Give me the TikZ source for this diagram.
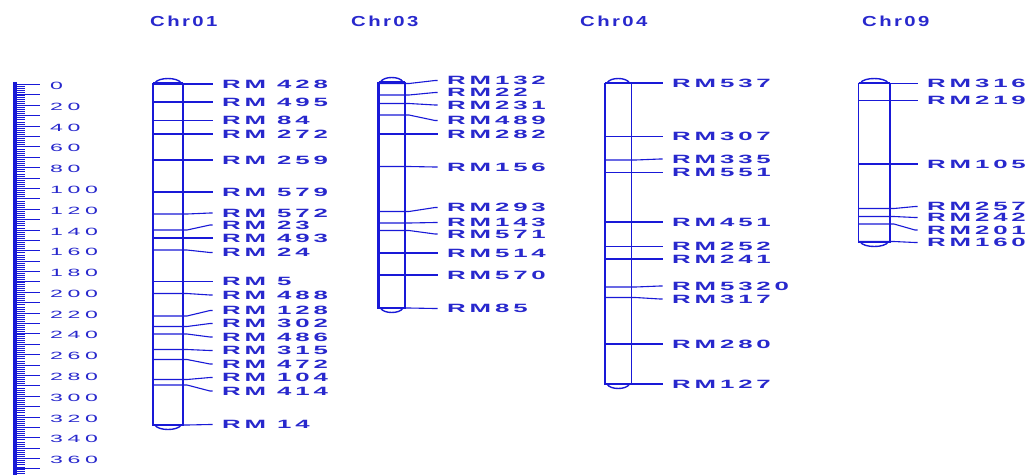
\documentclass[tikz,border=0pt]{standalone}
\usepackage{graphicx}
\usepackage{fontspec}
\setmainfont{Liberation Sans}
\newfontfamily\labfont[LetterSpace=15]{Liberation Sans}
\newfontfamily\rulfont[LetterSpace=20]{Liberation Sans}
\newfontfamily\ttlfont[LetterSpace=12]{Liberation Sans}
\definecolor{cblue}{RGB}{25,25,215}
\definecolor{tblue}{RGB}{40,40,205}
\newcommand\labtxt[1]{\scalebox{2.15}[1]{#1}}
\newcommand\rultxt[1]{\scalebox{2.2}[1]{#1}}
\newcommand\ttltxt[1]{\scalebox{1.4}[1]{#1}}
\newcommand\drawrod[6]{%
  \draw[rod] (#1,#3) -- (#2,#3);
  \draw[rod] (#1,#4) -- (#2,#4);
  \draw[cblue,line width=#5] (#1,{#3-0.5}) -- (#1,{#4+0.5});
  \draw[cblue,line width=#6] (#2,{#3-0.5}) -- (#2,{#4+0.5});
  \draw[rod] ({#1+2},#3) .. controls ({#1+5},{#3-6}) and ({#2-5},{#3-6}) .. ({#2-2},#3);
  \draw[rod] ({#1+2},#4) .. controls ({#1+5},{#4+6}) and ({#2-5},{#4+6}) .. ({#2-2},#4);
}
\newcommand\markers[5]{%
  \foreach \yc/\yl/\txt [count=\i] in {#5} {
    \node[lab] (#4\i) at (#3,\yl) {\labtxt{\txt}};
    \draw[mk] (#1,\yc) -- (#2,\yc) -- ({#2+4},\yc) -- ([xshift=-12pt]#4\i.west) -- ([xshift=-9.5pt]#4\i.west);
  }
}
\begin{document}
\begin{tikzpicture}[x=1pt,y=-1pt,
  rod/.style={cblue,line width=1.4pt},
  mk/.style={cblue,line width=1.1pt},
  lab/.style={text=tblue,inner sep=0pt,anchor=west,font=\labfont\bfseries\fontsize{12}{13}\selectfont},
  rul/.style={text=tblue,inner sep=0pt,anchor=west,font=\rulfont\fontsize{10.5}{11}\selectfont},
  ttl/.style={text=tblue,inner sep=0pt,anchor=west,font=\ttlfont\bfseries\fontsize{14.5}{15}\selectfont}]
\fill[white] (0,0) rectangle (1031,475);
\path[use as bounding box] (0,0) rectangle (1031,475);
% titles
\node[ttl] (t1) at (150,21) {\ttltxt{Chr01}};
\node[ttl] (t3) at (351,21) {\ttltxt{Chr03}};
\node[ttl] (t4) at (580,21) {\ttltxt{Chr04}};
\node[ttl] (t9) at (862,21) {\ttltxt{Chr09}};
% scale ruler
\fill[cblue] (12.5,82) rectangle (16.5,475);
\foreach \v in {0,2,...,374} \draw[cblue,line width=0.7pt] (16,{84.5+1.039*\v}) -- (25,{84.5+1.039*\v});
\foreach \v in {0,10,...,370} \draw[cblue,line width=0.9pt] (16,{84.5+1.039*\v}) -- (40,{84.5+1.039*\v});
\foreach \v in {0,20,...,360} \node[rul] (r\v) at (50,{86+1.039*\v}) {\rultxt{\v}};
% Chr01
\markers{153}{183}{222}{a}{84/84/RM 428, 102/102/RM 495, 120.5/120.5/RM 84, 134/134/RM 272, 160/160/RM 259, 192/192/RM 579, 214/213/RM 572, 230/225/RM 23, 238/238/RM 493, 250/252.5/RM 24, 281.5/281.5/RM 5, 293.5/295/RM 488, 316/310.5/RM 128, 326.5/323.5/RM 302, 334/337/RM 486, 349.5/350.5/RM 315, 359.5/364/RM 472, 379.5/377.5/RM 104, 385/391/RM 414, 425/424.5/RM 14}
\drawrod{153}{183}{83}{425}{1.5pt}{1.5pt}
% Chr03
\markers{378.5}{405}{447}{b}{83.5/80.5/RM132, 95/92.5/RM22, 103.5/105/RM231, 115/120.5/RM489, 134/134/RM282, 166.5/167/RM156, 211.5/207.5/RM293, 223/222.5/RM143, 230.5/234/RM571, 253/253/RM514, 275/275/RM570, 308/308.5/RM85}
\drawrod{378.5}{405}{82}{308}{2.6pt}{1.4pt}
% Chr04
\markers{605}{631.5}{672}{c}{83/83/RM537, 136.5/136.5/RM307, 160/159/RM335, 172.5/172.5/RM551, 222/222/RM451, 246.5/246.5/RM252, 259/259/RM241, 287/286/RM5320, 297.5/299/RM317, 344/344/RM280, 384/384/RM127}
\drawrod{605}{631.5}{83}{384}{2.6pt}{1.4pt}
% Chr09
\markers{858.5}{890}{927}{d}{83.5/83.5/RM316, 100.5/100.5/RM219, 164/164/RM105, 208.5/206.5/RM257, 216.5/217.5/RM242, 224/230/RM201, 241.5/242.5/RM160}
\drawrod{858.5}{890}{83}{242}{1.8pt}{2.2pt}
\end{tikzpicture}
\end{document}
